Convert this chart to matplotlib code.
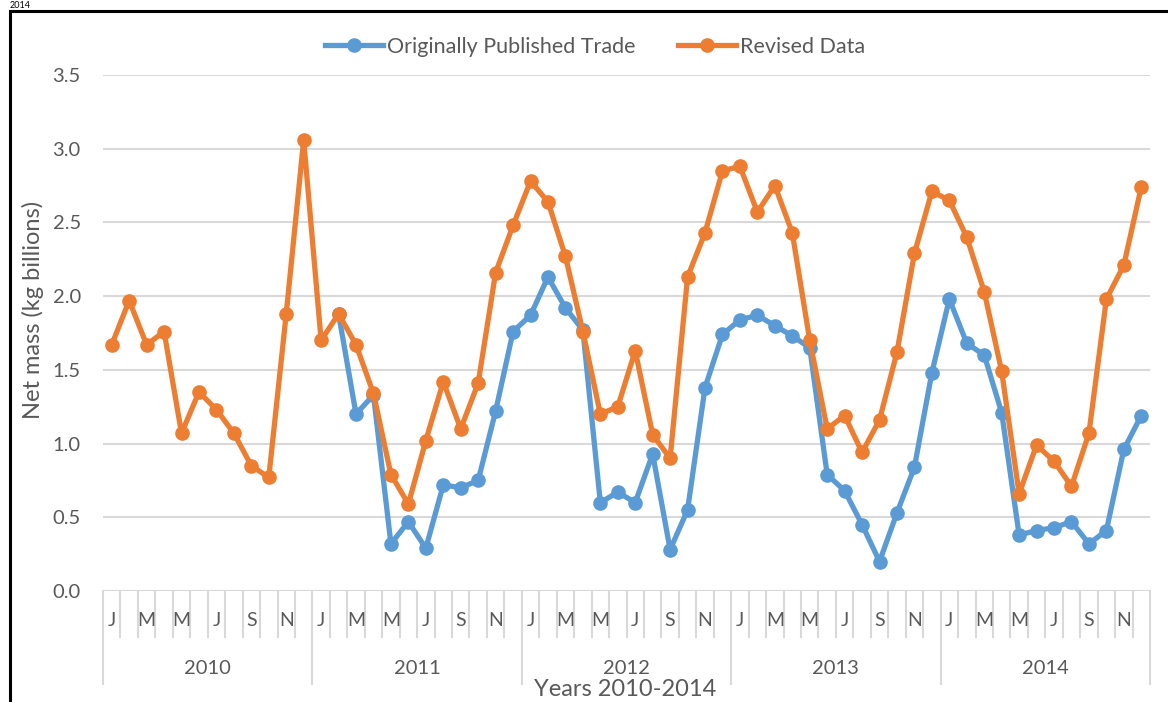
import matplotlib
matplotlib.use("Agg")
import matplotlib.pyplot as plt
import matplotlib.patches as patches
import numpy as np

plt.rcParams['font.family'] = ['Lato', 'DejaVu Sans']

years = ['2010', '2011', '2012', '2013', '2014']
month_labels = ['J', '', 'M', '', 'M', '', 'J', '', 'S', '', 'N', '']

# revised data, Jan 2010 - Dec 2014
revised = [1.67, 1.97, 1.67, 1.76, 1.07, 1.35, 1.23, 1.07, 0.85, 0.77, 1.88, 3.06,
           1.70, 1.88, 1.67, 1.34, 0.79, 0.59, 1.02, 1.42, 1.10, 1.41, 2.16, 2.48,
           2.78, 2.64, 2.27, 1.76, 1.20, 1.25, 1.63, 1.06, 0.90, 2.13, 2.43, 2.85,
           2.88, 2.57, 2.75, 2.43, 1.70, 1.10, 1.19, 0.94, 1.16, 1.62, 2.29, 2.71,
           2.65, 2.40, 2.03, 1.49, 0.66, 0.99, 0.88, 0.71, 1.07, 1.98, 2.21, 2.74]

# originally published trade (hidden under orange before Feb 2011)
original = [None] * 13 + [
                 1.88, 1.20, 1.33, 0.32, 0.47, 0.29, 0.72, 0.70, 0.75, 1.22, 1.76,
           1.87, 2.13, 1.92, 1.77, 0.60, 0.67, 0.60, 0.93, 0.28, 0.55, 1.38, 1.74,
           1.84, 1.87, 1.80, 1.73, 1.65, 0.79, 0.68, 0.45, 0.20, 0.53, 0.84, 1.48,
           1.98, 1.68, 1.60, 1.21, 0.38, 0.41, 0.43, 0.47, 0.32, 0.41, 0.96, 1.19]

blue = '#5B9BD5'
orange = '#ED7D31'
grid = '#D9D9D9'
txt = '#595959'

W, H = 1168, 702
fig = plt.figure(figsize=(W / 100, H / 100), dpi=100)
ax = fig.add_axes([103 / W, 1 - 591 / H, (1150 - 103) / W, (591 - 75) / H])

x = np.arange(len(revised))
orig = np.array([np.nan if v is None else v for v in original])
ax.plot(x, orig, color=blue, lw=3.8, marker='o', ms=9.5, label='Originally Published Trade', zorder=3)
ax.plot(x, revised, color=orange, lw=3.8, marker='o', ms=9.5, label='Revised Data', zorder=4)

ax.set_xlim(-0.5, len(revised) - 0.5)
ax.set_ylim(0, 3.5)
ax.set_yticks(np.arange(0, 3.51, 0.5))
ax.set_yticklabels([f'{v:.1f}' for v in np.arange(0, 3.51, 0.5)], color=txt, fontsize=14.5)
ax.tick_params(axis='y', length=0, pad=16)
ax.set_xticks([])
ax.grid(axis='y', color=grid, lw=1.5)
ax.set_axisbelow(True)
for s in ax.spines.values():
    s.set_visible(False)

# category axis: month ticks, year ticks, labels
tr = ax.get_xaxis_transform()
h_month = 46 / 516
h_year = 93 / 516
for i in range(len(revised) + 1):
    b = i - 0.5
    lo = -h_year if i % 12 == 0 else -h_month
    ax.plot([b, b], [0, lo], color=grid, lw=1.5, transform=tr, clip_on=False)
for i in range(len(revised)):
    lab = month_labels[i % 12]
    if lab:
        ax.text(i, -30 / 516, lab, transform=tr, ha='center', va='center',
                color=txt, fontsize=14)
for k, yr in enumerate(years):
    ax.text(12 * k + 5.5, -77 / 516, yr, transform=tr, ha='center', va='center',
            color=txt, fontsize=14.5)

fig.text(625 / W, 1 - 689 / H, 'Years 2010-2014', ha='center', va='center', color=txt, fontsize=17)
fig.text(33 / W, 1 - 310 / H, 'Net mass (kg billions)', rotation=90, ha='center', va='center',
         color=txt, fontsize=17)

fig.legend(*ax.get_legend_handles_labels(), loc='center', bbox_to_anchor=(595 / W, 1 - 47 / H),
           ncol=2, frameon=False, fontsize=15.5, labelcolor=txt, handlelength=2.7,
           columnspacing=2.0, handletextpad=0.15)

# black frame around the chart and small caption above it
fig.patches.append(patches.Rectangle((9.5 / W, -0.1), 1.2, 1 - 10.5 / H + 0.1, transform=fig.transFigure,
                                     fill=False, edgecolor='black', lw=2.2))
fig.text(10 / W, 1 - 1 / H, '2014', ha='left', va='top', fontsize=6.5, color='black')

fig.savefig('out.png', dpi=100)
